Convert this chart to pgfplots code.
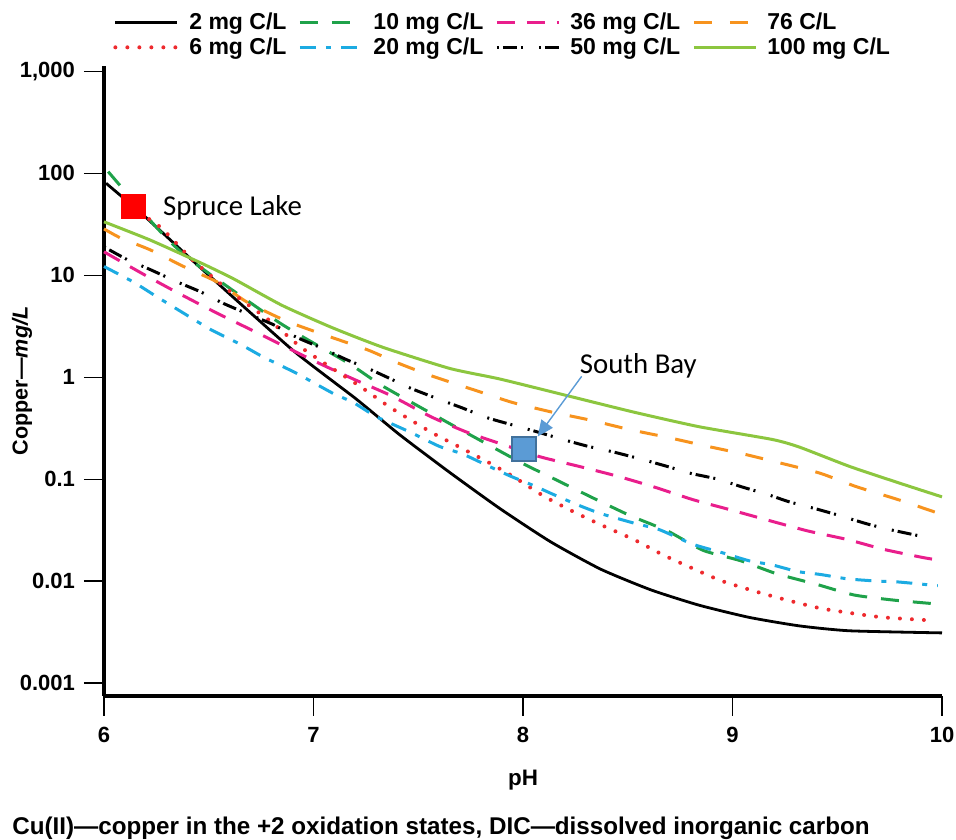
\documentclass[border=0pt]{standalone}
\usepackage{pgfplots}
\pgfplotsset{compat=1.18}
\usepackage{fontspec}
\usetikzlibrary{arrows.meta}
\setmainfont{Liberation Sans}
\newfontfamily\calibri{Carlito}
\definecolor{cred}{HTML}{EE2A2E}
\definecolor{cgreen}{HTML}{1FA24A}
\definecolor{cblue}{HTML}{1CABE2}
\definecolor{cmag}{HTML}{E91E8C}
\definecolor{corange}{HTML}{F7931E}
\definecolor{clime}{HTML}{8CC63F}
\definecolor{sbfill}{HTML}{5B9BD5}
\definecolor{sbdraw}{HTML}{41719C}

\pgfplotstableread{
x y
6.01 80
6.19 38.6
6.46 11.9
6.90 1.85
7.20 0.62
7.41 0.274
7.65 0.1164
7.89 0.0514
8.13 0.0244
8.37 0.0131
8.61 0.0082
8.84 0.0058
9.08 0.0044
9.32 0.00363
9.56 0.00325
10.0 0.0031
}\tA
\pgfplotstableread{
x y
6.12 48
6.27 29.6
6.42 14.3
6.60 7.0
6.79 3.6
6.94 1.97
7.09 1.22
7.22 0.82
7.37 0.50
7.56 0.29
7.69 0.21
7.83 0.148
7.95 0.107
8.10 0.068
8.24 0.048
8.38 0.035
8.53 0.0255
8.67 0.018
8.81 0.0133
8.95 0.010
9.12 0.0078
9.26 0.0065
9.42 0.0054
9.58 0.0048
9.72 0.0044
9.96 0.0041
}\tB
\pgfplotstableread{
x y
6.02 104
6.25 29.6
6.41 14.3
6.84 3.4
7.17 1.36
7.33 0.82
7.64 0.36
7.83 0.22
8.00 0.142
8.16 0.098
8.33 0.066
8.51 0.044
8.69 0.031
8.86 0.020
9.04 0.0158
9.21 0.0118
9.40 0.0093
9.58 0.0073
9.77 0.0065
10.0 0.0059
}\tC
\pgfplotstableread{
x y
6.00 12.2
6.14 8.6
6.25 6.2
6.38 4.25
6.51 2.93
6.65 2.11
6.76 1.58
6.92 1.09
7.09 0.70
7.19 0.565
7.30 0.41
7.46 0.29
7.60 0.21
7.71 0.177
7.83 0.136
7.94 0.107
8.05 0.0866
8.14 0.0715
8.26 0.056
8.37 0.046
8.53 0.037
8.65 0.032
8.81 0.023
8.95 0.019
9.08 0.0158
9.19 0.0144
9.31 0.0124
9.42 0.0116
9.55 0.0105
9.69 0.0100
9.79 0.0098
9.98 0.0090
}\tD
\pgfplotstableread{
x y
6.00 17
6.19 10.2
6.36 6.6
6.54 4.25
6.71 2.87
6.87 1.97
7.03 1.36
7.19 0.96
7.37 0.66
7.56 0.41
7.73 0.29
7.90 0.22
8.08 0.166
8.27 0.133
8.45 0.107
8.62 0.0845
8.81 0.063
8.99 0.050
9.18 0.039
9.36 0.031
9.55 0.0255
9.72 0.0205
9.91 0.017
9.99 0.016
}\tE
\pgfplotstableread{
x y
6.00 19
6.11 14.3
6.22 11.4
6.35 8.6
6.46 6.9
6.57 5.3
6.70 4.07
6.81 3.27
6.92 2.46
7.03 1.97
7.16 1.48
7.26 1.22
7.37 0.96
7.47 0.77
7.64 0.565
7.71 0.50
7.83 0.40
7.95 0.34
8.07 0.29
8.19 0.245
8.31 0.21
8.43 0.185
8.56 0.158
8.69 0.133
8.80 0.114
8.93 0.100
9.04 0.0845
9.16 0.0715
9.27 0.060
9.40 0.051
9.51 0.044
9.64 0.0365
9.75 0.032
9.92 0.027
}\tF
\pgfplotstableread{
x y
6.00 28.5
6.08 23.2
6.22 17.8
6.38 12.2
6.54 8.6
6.68 5.5
6.87 3.56
7.06 2.57
7.26 1.85
7.41 1.36
7.57 1.02
7.78 0.735
7.95 0.565
8.14 0.454
8.32 0.38
8.51 0.306
8.69 0.257
8.88 0.21
9.05 0.177
9.24 0.142
9.42 0.114
9.59 0.0845
9.79 0.063
10.0 0.045
}\tG
\pgfplotstableread{
x y
6.00 33.5
6.22 22.2
6.46 13.3
6.62 9.2
6.85 5.07
7.09 3.06
7.33 1.97
7.65 1.22
7.89 0.96
8.21 0.66
8.53 0.454
8.84 0.327
9.19 0.245
9.32 0.206
9.56 0.133
9.80 0.091
10.0 0.067
}\tH

\begin{document}
\begin{tikzpicture}
\useasboundingbox (-52pt,-71.5pt) rectangle (426pt,348pt);
\begin{axis}[
  at={(0,0)}, anchor=south west,
  scale only axis, width=419pt, height=315pt,
  xmin=6, xmax=10, ymode=log, ymin=0.000745, ymax=1132,
  axis x line*=bottom, axis y line*=left,
  axis line style={line width=2pt, black},
  clip=false,
  xtick={6,7,8,9,10}, xticklabels={6,7,8,9,10},
  ytick={0.001,0.01,0.1,1,10,100,1000},
  yticklabels={0.001,0.01,0.1,1,10,100,{1,000}},
  yminorticks=false,
  tick align=outside, major tick length=10pt,
  tick style={line width=0.6pt, black},
  ticklabel style={font=\fontsize{11}{13}\selectfont\bfseries},
  xticklabel style={yshift=-2pt},
  yticklabel style={xshift=-1pt},
  /pgf/number format/assume math mode=true,
  xlabel={pH}, ylabel={Copper—\textit{mg/L}},
  every axis x label/.style={at={(axis description cs:0.5,-0.1333)}, anchor=center, font=\fontsize{11.2}{13}\selectfont\bfseries},
  every axis y label/.style={at={(axis description cs:-0.0979,0.5)}, rotate=90, anchor=center, font=\fontsize{10.8}{12}\selectfont\bfseries},
  legend columns=4,
  legend cell align=left,
  legend style={at={(axis description cs:0.0107,1.0492)}, anchor=west, draw=none, fill=none, inner sep=0pt,
    font=\fontsize{11.5}{13}\selectfont\bfseries,
    /tikz/every odd column/.append style={column sep=5pt},
    /tikz/every even column/.append style={column sep=6pt}, row sep=2.5pt,
    nodes={inner xsep=0pt, inner ysep=0pt}},
  legend image code/.code={\draw[#1] (0pt,0pt) -- (31pt,0pt);},
  every axis plot/.append style={line width=1.5pt, smooth, tension=0.35},
]
\addplot[black, line width=1.4pt] table {\tA};
\addlegendentry{2 mg C/L}
\addplot[cgreen, dash pattern=on 9pt off 7pt] table {\tC};
\addlegendentry{10 mg C/L}
\addplot[cmag, dash pattern=on 9pt off 6pt] table {\tE};
\addlegendentry{36 mg C/L}
\addplot[corange, dash pattern=on 9pt off 9pt] table {\tG};
\addlegendentry{76 C/L}
\addplot[cred, line width=2pt, line cap=round, dash pattern=on 0pt off 6pt] table {\tB};
\addlegendentry{6 mg C/L}
\addplot[cblue, dash pattern=on 8pt off 5pt on 2.5pt off 5pt] table {\tD};
\addlegendentry{20 mg C/L}
\addplot[black, dash pattern=on 1pt off 2pt on 7pt off 2pt on 1pt off 8pt] table {\tF};
\addlegendentry{50 mg C/L}
\addplot[clime] table {\tH};
\addlegendentry{100 mg C/L}

\addplot[only marks, mark=square*, mark size=5.5pt, color=red, forget plot] coordinates {(6.14,47)};
\addplot[only marks, mark=square*, mark size=6pt, mark options={fill=sbfill, draw=sbdraw, line width=1pt}, forget plot] coordinates {(8.005,0.197)};
\draw[-{Triangle[length=8pt,width=7pt]}, sbfill, line width=0.7pt] (axis cs:8.28,1.02) -- (axis cs:8.07,0.262);
\node[anchor=west, inner sep=0pt, font=\calibri\fontsize{14.4}{16}\selectfont] at (axis cs:6.28,46) {Spruce Lake};
\node[anchor=west, inner sep=0pt, font=\calibri\fontsize{14.4}{16}\selectfont] at (axis cs:8.27,1.28) {South Bay};
\node[anchor=west, inner sep=0pt, font=\fontsize{12.1}{13}\selectfont\bfseries] at (axis description cs:-0.1098,-0.2095) {Cu(II)—copper in the +2 oxidation states, DIC—dissolved inorganic carbon};
\end{axis}
\end{tikzpicture}
\end{document}
